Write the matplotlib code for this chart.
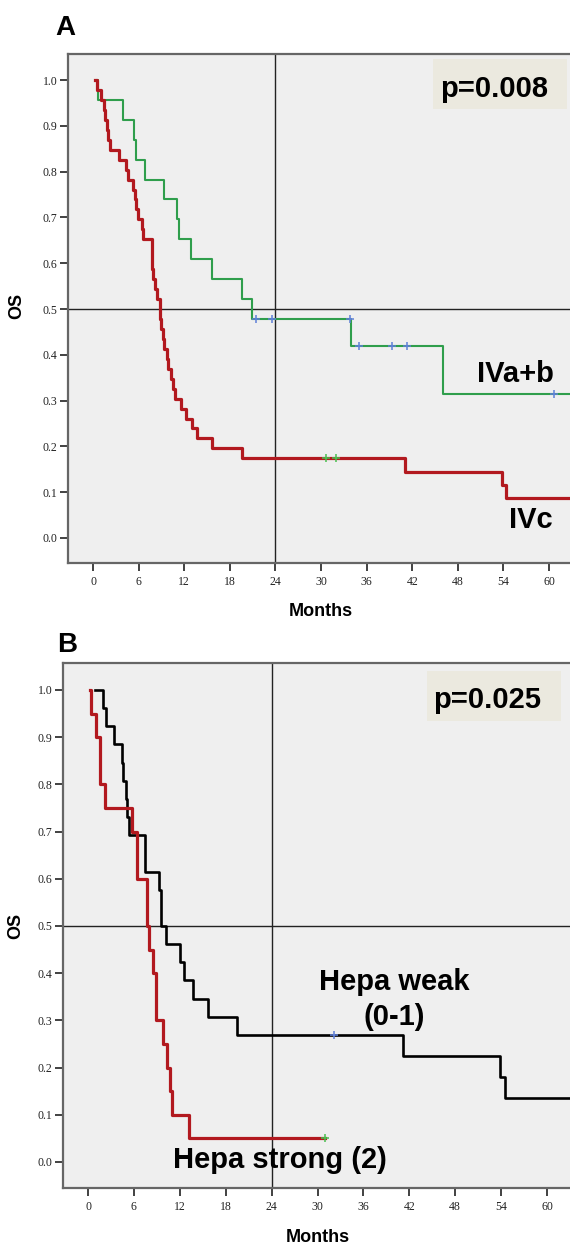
import numpy as np
import matplotlib
matplotlib.use("Agg")
import matplotlib.pyplot as plt
from matplotlib.patches import Rectangle

# ---------------- data (months) ----------------
# Panel A: IVa+b (green), n=23
ivab_first_obs = 0.5
ivab_death = [0.6, 3.9, 5.4, 5.6, 6.9, 9.4, 11.0, 11.3, 12.9, 15.6, 19.6, 20.9, 34.0, 46.1]
ivab_cens = [21.4, 23.6, 33.8, 35.0, 39.4, 41.3, 60.6, 66.0, 72.0]

# Panel A: IVc (red), n=46
ivc_first_obs = 0.26
ivc_death = [0.5, 1.1, 1.4, 1.6, 1.8, 2.0, 2.3, 3.4, 4.3, 4.6, 5.3, 5.5, 5.7, 5.9,
             6.4, 6.6, 7.7, 7.75, 7.8, 7.9, 8.1, 8.4, 8.8, 8.85, 9.0, 9.2, 9.4, 9.7,
             9.9, 10.2, 10.5, 10.8, 11.6, 12.3, 13.0, 13.7, 15.6, 19.6,
             41.1, 53.8, 54.3]
ivc_cens = [30.7, 32.0, 66.0, 70.0, 75.0]

# Panel B: Hepa weak (0-1) (black), n=26
weak_first_obs = 0.9
weak_death = [1.9, 2.35, 3.4, 4.5, 4.6, 5.0, 5.1, 5.4, 7.5, 7.5, 9.3, 9.6, 9.6, 10.15,
              12.0, 12.5, 13.7, 15.7, 19.5, 41.2, 53.9, 54.5]
weak_cens = [32.1, 66.0, 70.0, 75.0]

# Panel B: Hepa strong (2) (red), n=20
strong_first_obs = 0.2
strong_death = [0.35, 1.1, 1.6, 1.6, 2.2, 5.8, 6.4, 6.4, 7.7, 7.7, 8.0, 8.45, 8.9, 8.9,
                9.85, 10.3, 10.7, 11.0, 13.25]
strong_cens = [31.0]

x_ticks = [0, 6, 12, 18, 24, 30, 36, 42, 48, 54, 60]
y_ticks = [0.0, 0.1, 0.2, 0.3, 0.4, 0.5, 0.6, 0.7, 0.8, 0.9, 1.0]
p_values = ["p=0.008", "p=0.025"]


def km(deaths, cens, t0):
    times = np.array(list(deaths) + list(cens), dtype=float)
    ev = np.array([1] * len(deaths) + [0] * len(cens))
    at_risk = len(times)
    s = 1.0
    xs, ys = [t0], [1.0]
    cx, cy = [], []
    for ut in np.unique(times):
        d = int(np.sum((times == ut) & (ev == 1)))
        c = int(np.sum((times == ut) & (ev == 0)))
        if d > 0:
            s *= (at_risk - d) / at_risk
        xs.append(ut)
        ys.append(s)
        if c > 0:
            cx.append(ut)
            cy.append(s)
        at_risk -= d + c
    return np.array(xs), np.array(ys), np.array(cx), np.array(cy)


W, H = 570, 1245
fig = plt.figure(figsize=(W / 100, H / 100), dpi=100)
fig.patch.set_facecolor("white")


def fx(x):
    return x / W


def fy(y):
    return 1 - y / H


BOLD = dict(family="Liberation Sans", fontweight="bold", color="black")
TICKFONT = dict(family="Liberation Serif", size=8.5)

RED = "#b2191f"
GREEN = "#2f9e4c"
BLUE_C = "#5f7fd8"
GREEN_C = "#48c050"


def style_axes(ax, xlim, ylim):
    ax.set_facecolor("#efefef")
    ax.set_xlim(*xlim)
    ax.set_ylim(*ylim)
    ax.set_xticks(x_ticks)
    ax.set_yticks(y_ticks)
    ax.set_xticklabels([str(t) for t in x_ticks], fontdict=TICKFONT)
    ax.set_yticklabels(["%.1f" % t for t in y_ticks], fontdict=TICKFONT)
    ax.tick_params(direction="out", length=5.5, width=1.3, color="#333333", pad=2,
                   labelcolor="#222222")
    ax.tick_params(axis="x", pad=4)
    for sp in ax.spines.values():
        sp.set_color("#666666")
        sp.set_linewidth(1.6)
    ax.axhline(0.5, color="#222222", lw=1.0, zorder=1)
    ax.axvline(24, color="#222222", lw=1.0, zorder=1)


# ---------------- Panel A ----------------
axA = fig.add_axes([fx(68), fy(563), fx(573 - 68), (563 - 54) / H])
style_axes(axA, (-3.29, 63.16), (-0.0546, 1.0568))

x, y, cx, cy = km(ivab_death, ivab_cens, ivab_first_obs)
axA.step(x, y, where="post", color=GREEN, lw=1.5, zorder=3)
axA.plot(cx, cy, ls="none", marker="+", ms=6, mew=1.1, color=BLUE_C, zorder=4)

x, y, cx, cy = km(ivc_death, ivc_cens, ivc_first_obs)
axA.step(x, y, where="post", color=RED, lw=2.3, zorder=3)
axA.plot(cx, cy, ls="none", marker="+", ms=6, mew=1.1, color=GREEN_C, zorder=4)

axA.text(55.6, 0.341, "IVa+b", ha="center", va="baseline", fontsize=21, **BOLD)
axA.text(57.6, 0.021, "IVc", ha="center", va="baseline", fontsize=21, **BOLD)

# ---------------- Panel B ----------------
axB = fig.add_axes([fx(63), fy(1188), fx(573 - 63), (1188 - 663) / H])
style_axes(axB, (-3.27, 63.4), (-0.0551, 1.0572))

x, y, cx, cy = km(weak_death, weak_cens, weak_first_obs)
axB.step(x, y, where="post", color="black", lw=1.9, zorder=3)
axB.plot(cx, cy, ls="none", marker="+", ms=6, mew=1.1, color=BLUE_C, zorder=4)

x, y, cx, cy = km(strong_death, strong_cens, strong_first_obs)
axB.step(x, y, where="post", color=RED, lw=2.3, zorder=3)
axB.plot(cx, cy, ls="none", marker="+", ms=6, mew=1.1, color=GREEN_C, zorder=4)

axB.text(40.0, 0.364, "Hepa weak", ha="center", va="baseline", fontsize=21, **BOLD)
axB.text(40.0, 0.290, "(0-1)", ha="center", va="baseline", fontsize=21, **BOLD)
axB.text(25.1, -0.013, "Hepa strong (2)", ha="center", va="baseline", fontsize=21, **BOLD)

# ---------------- figure-level text ----------------
fig.text(fx(55), fy(35), "A", ha="left", va="baseline", fontsize=20, **BOLD)
fig.text(fx(57), fy(652), "B", ha="left", va="baseline", fontsize=20, **BOLD)

fig.text(fx(321), fy(616), "Months", ha="center", va="baseline", fontsize=13, **BOLD)
fig.text(fx(318), fy(1242), "Months", ha="center", va="baseline", fontsize=13, **BOLD)
fig.text(fx(17), fy(306), "OS", ha="center", va="center", rotation=90, fontsize=13, **BOLD)
fig.text(fx(16), fy(926), "OS", ha="center", va="center", rotation=90, fontsize=13, **BOLD)

# p-value boxes
for (x0, y0, x1, y1), (tx, tb), txt in [((433, 59, 567, 109), (440, 97), p_values[0]),
                                         ((427, 671, 561, 721), (433, 708), p_values[1])]:
    fig.add_artist(Rectangle((fx(x0), fy(y1)), fx(x1 - x0), (y1 - y0) / H,
                             transform=fig.transFigure, facecolor="#ebe9df",
                             edgecolor="none", zorder=5))
    fig.text(fx(tx), fy(tb), txt, ha="left", va="baseline", fontsize=21, zorder=6, **BOLD)

fig.savefig("out.png", dpi=100)
